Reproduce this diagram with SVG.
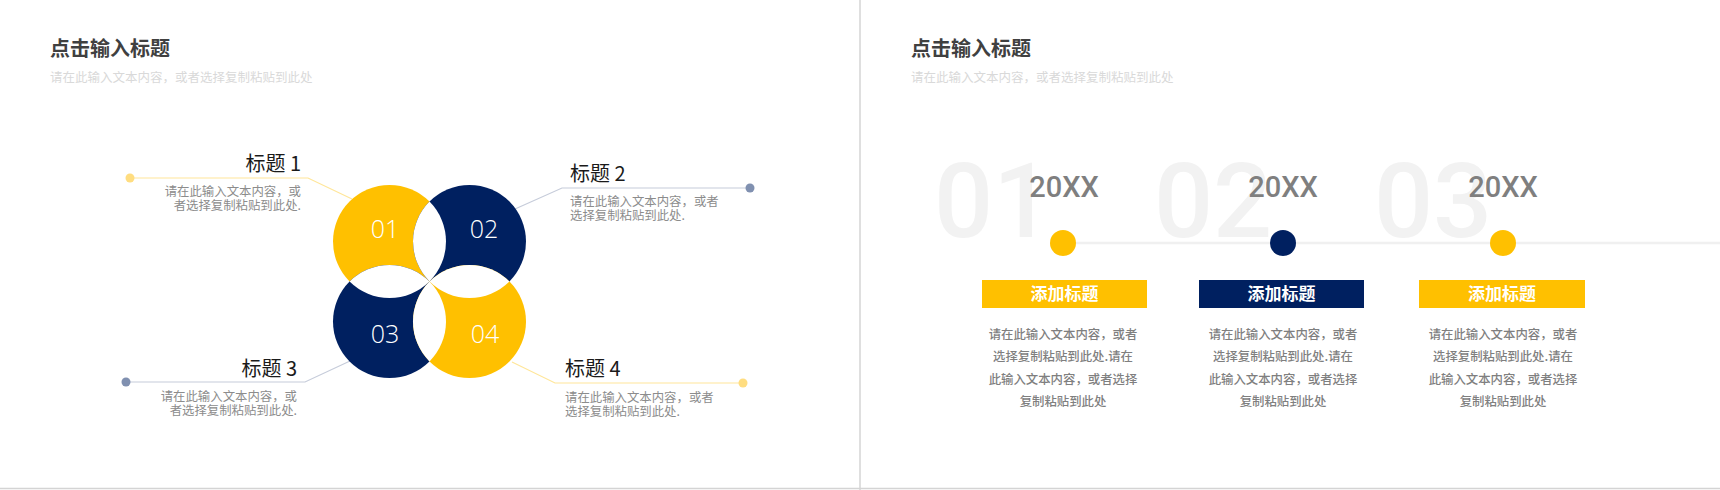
<svg xmlns="http://www.w3.org/2000/svg" width="1720" height="490" viewBox="0 0 1720 490">
<style>
.title{font-family:"Noto Sans CJK SC","Liberation Sans",sans-serif;font-size:20px;font-weight:700;fill:#404040}
.sub{font-family:"Noto Sans CJK SC","Liberation Sans",sans-serif;font-size:12.5px;fill:#d9d9d9}
.lab{font-family:"Noto Sans CJK SC","Liberation Sans",sans-serif;font-size:20px;fill:#1a1a1a}
.desc{font-family:"Noto Sans CJK SC","Liberation Sans",sans-serif;font-size:12.4px;fill:#8c8c8c}
.num{font-family:"Open Sans","Liberation Sans",sans-serif;font-size:25px;font-weight:300;fill:#ffffff;text-anchor:middle}
.big{font-family:Roboto,"Liberation Sans",sans-serif;font-size:104px;font-weight:500;fill:#f2f2f2;text-anchor:middle}
.year{font-family:Roboto,"Liberation Sans",sans-serif;font-size:29px;font-weight:500;fill:#7f7f7f;text-anchor:middle}
.btn{font-family:"Noto Sans CJK SC","Liberation Sans",sans-serif;font-size:17px;font-weight:700;fill:#ffffff;text-anchor:middle}
.tdesc{font-family:"Noto Sans CJK SC","Liberation Sans",sans-serif;font-size:12.4px;font-weight:500;fill:#7f7f7f;text-anchor:middle}
.ly{stroke:#ffe699;stroke-width:1.2;fill:none}
.lb{stroke:#c6ccda;stroke-width:1.2;fill:none}
.y{fill:#ffc000}
.n{fill:#002060}
</style>
<rect x="0" y="0" width="1720" height="490" fill="#ffffff"/>
<line x1="860" y1="0" x2="860" y2="490" stroke="#d4d4d4" stroke-width="1.5"/>
<line x1="0" y1="488.5" x2="1720" y2="488.5" stroke="#d4d4d4" stroke-width="1.5"/>

<!-- left slide header -->
<g id="left-header">
<text class="title" x="50" y="56">点击输入标题</text>
<text class="sub" x="50" y="82">请在此输入文本内容，或者选择复制粘贴到此处</text>
</g>

<!-- connectors -->
<g id="connectors">
<polyline class="ly" points="130,178 308,178 352,199"/>
<polyline class="lb" points="750,188 562,188 515,209"/>
<polyline class="lb" points="126,382 305,382 350,361"/>
<polyline class="ly" points="743,383 555,383 512,362"/>
<circle cx="130" cy="178" r="4.5" fill="#ffdd80"/>
<circle cx="750" cy="188" r="4.5" fill="#8090b0"/>
<circle cx="126" cy="382" r="4.5" fill="#8090b0"/>
<circle cx="743" cy="383" r="4.5" fill="#ffdd80"/>
</g>

<!-- circles -->
<g id="node-01"><circle class="y" cx="389.5" cy="241.5" r="56.5"/></g>
<g id="node-02"><circle class="n" cx="469.5" cy="241.5" r="56.5"/></g>
<g id="node-03"><circle class="n" cx="389.5" cy="321.5" r="56.5"/></g>
<g id="node-04"><circle class="y" cx="469.5" cy="321.5" r="56.5"/></g>
<g id="lenses" fill="#ffffff">
<path d="M429.5 201.6 A56.5 56.5 0 0 1 429.5 281.4 A56.5 56.5 0 0 1 429.5 201.6 Z"/>
<path d="M429.5 281.6 A56.5 56.5 0 0 1 429.5 361.4 A56.5 56.5 0 0 1 429.5 281.6 Z"/>
<path d="M349.6 281.5 A56.5 56.5 0 0 1 429.4 281.5 A56.5 56.5 0 0 1 349.6 281.5 Z"/>
<path d="M429.6 281.5 A56.5 56.5 0 0 1 509.4 281.5 A56.5 56.5 0 0 1 429.6 281.5 Z"/>
</g>
<g id="numbers">
<text class="num" x="385" y="238">01</text>
<text class="num" x="484" y="238">02</text>
<text class="num" x="385" y="343">03</text>
<text class="num" x="485" y="343">04</text>
</g>

<!-- labels -->
<g id="label-1" text-anchor="end">
<text class="lab" x="301" y="171">标题 1</text>
<text class="desc" x="301" y="196">请在此输入文本内容，或</text>
<text class="desc" x="301" y="210">者选择复制粘贴到此处.</text>
</g>
<g id="label-2">
<text class="lab" x="570" y="181">标题 2</text>
<text class="desc" x="570" y="206">请在此输入文本内容，或者</text>
<text class="desc" x="570" y="220">选择复制粘贴到此处.</text>
</g>
<g id="label-3" text-anchor="end">
<text class="lab" x="297" y="376">标题 3</text>
<text class="desc" x="297" y="401">请在此输入文本内容，或</text>
<text class="desc" x="297" y="415">者选择复制粘贴到此处.</text>
</g>
<g id="label-4">
<text class="lab" x="565" y="376">标题 4</text>
<text class="desc" x="565" y="402">请在此输入文本内容，或者</text>
<text class="desc" x="565" y="416">选择复制粘贴到此处.</text>
</g>

<!-- right slide -->
<g id="right-header">
<text class="title" x="911" y="56">点击输入标题</text>
<text class="sub" x="911" y="82">请在此输入文本内容，或者选择复制粘贴到此处</text>
</g>
<line x1="1063" y1="243" x2="1720" y2="243" stroke="#f0f0f0" stroke-width="2.5"/>

<g id="step-01">
<text class="big" x="993" y="237">01</text>
<text class="year" x="1064" y="197">20XX</text>
<circle class="y" cx="1063" cy="243" r="13"/>
<rect class="y" x="982" y="280" width="165" height="28"/>
<text class="btn" x="1064.5" y="300">添加标题</text>
<text class="tdesc" x="1063" y="339">请在此输入文本内容，或者</text>
<text class="tdesc" x="1063" y="361">选择复制粘贴到此处.请在</text>
<text class="tdesc" x="1063" y="384">此输入文本内容，或者选择</text>
<text class="tdesc" x="1063" y="406">复制粘贴到此处</text>
</g>
<g id="step-02">
<text class="big" x="1213" y="237">02</text>
<text class="year" x="1283" y="197">20XX</text>
<circle class="n" cx="1283" cy="243" r="13"/>
<rect class="n" x="1199" y="280" width="165" height="28"/>
<text class="btn" x="1281.5" y="300">添加标题</text>
<text class="tdesc" x="1283" y="339">请在此输入文本内容，或者</text>
<text class="tdesc" x="1283" y="361">选择复制粘贴到此处.请在</text>
<text class="tdesc" x="1283" y="384">此输入文本内容，或者选择</text>
<text class="tdesc" x="1283" y="406">复制粘贴到此处</text>
</g>
<g id="step-03">
<text class="big" x="1433" y="237">03</text>
<text class="year" x="1503" y="197">20XX</text>
<circle class="y" cx="1503" cy="243" r="13"/>
<rect class="y" x="1419" y="280" width="166" height="28"/>
<text class="btn" x="1502" y="300">添加标题</text>
<text class="tdesc" x="1503" y="339">请在此输入文本内容，或者</text>
<text class="tdesc" x="1503" y="361">选择复制粘贴到此处.请在</text>
<text class="tdesc" x="1503" y="384">此输入文本内容，或者选择</text>
<text class="tdesc" x="1503" y="406">复制粘贴到此处</text>
</g>
</svg>
